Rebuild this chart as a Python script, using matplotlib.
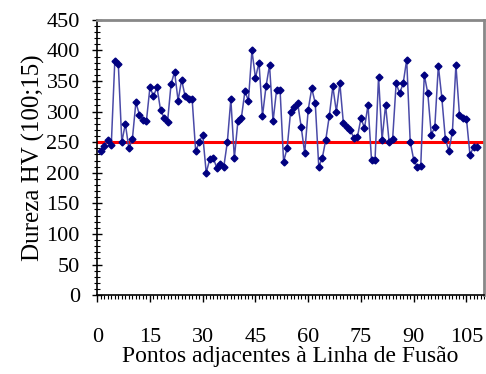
import matplotlib
matplotlib.use("Agg")
import matplotlib.pyplot as plt
from matplotlib.ticker import MultipleLocator

# Data
points = list(range(1, 109))
hardness = [
    236, 244, 254, 245, 382, 378, 250, 280, 240, 255,
    315, 295, 287, 285, 340, 325, 340, 303, 290, 283,
    345, 365, 318, 352, 325, 320, 320, 235, 250, 262,
    200, 222, 224, 208, 215, 210, 250, 320, 224, 284,
    290, 333, 318, 400, 355, 380, 293, 341, 376, 284,
    335, 335, 218, 240, 300, 308, 314, 275, 232, 303,
    338, 314, 210, 224, 254, 293, 341, 300, 346, 281,
    274, 270, 256, 259, 289, 273, 311, 221, 221, 357,
    254, 311, 251, 255, 346, 330, 346, 385, 251, 221,
    210, 211, 360, 330, 262, 275, 375, 322, 255, 236,
    267, 376, 295, 289, 288, 229, 242, 242,
]
reference_value = 250
x_ticks = [0, 15, 30, 45, 60, 75, 90, 105]
y_ticks = [0, 50, 100, 150, 200, 250, 300, 350, 400, 450]

plt.rcParams['font.family'] = ['Liberation Serif', 'DejaVu Serif']

fig = plt.figure(figsize=(4.86, 3.74), dpi=100)
ax = fig.add_axes([0.2, 0.211, 0.796, 0.736])

ax.plot(points, hardness, color='#4a4aa8', lw=1.1, marker='D', ms=3.5,
        mfc='#000080', mec='#000080', zorder=3)
ax.axhline(reference_value, color='#ff0000', lw=2.2, zorder=2)

ax.set_xlim(0, 110)
ax.set_ylim(0, 450)
ax.set_xticks(x_ticks)
ax.set_yticks(y_ticks)
ax.xaxis.set_minor_locator(MultipleLocator(1))
ax.yaxis.set_minor_locator(MultipleLocator(10))

ax.tick_params(axis='x', which='major', direction='out', length=5, width=1,
               labelsize=16, pad=19)
ax.tick_params(axis='x', which='minor', direction='out', length=3, width=0.8)
ax.tick_params(axis='y', which='major', direction='inout', length=7, width=1,
               labelsize=16, pad=9)
ax.tick_params(axis='y', which='minor', direction='inout', length=5, width=0.8)

for s in ['left', 'bottom']:
    ax.spines[s].set_color('black')
    ax.spines[s].set_linewidth(1.2)
for s in ['top', 'right']:
    ax.spines[s].set_color('#888888')
    ax.spines[s].set_linewidth(2)

ax.set_xlabel('Pontos adjacentes à Linha de Fusão', fontsize=17, labelpad=-1)
ax.set_ylabel('Dureza HV (100;15)', fontsize=18, labelpad=1)

fig.savefig('out.png', dpi=100)
